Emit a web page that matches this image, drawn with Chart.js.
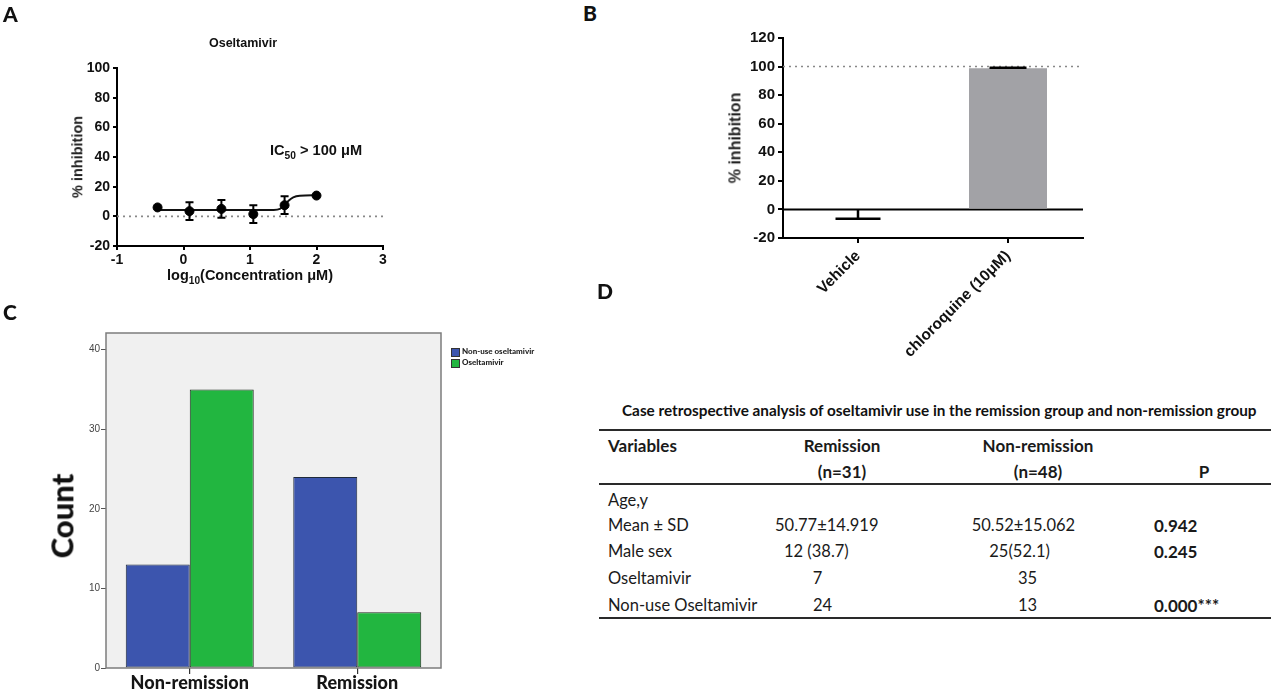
<!DOCTYPE html>
<html><head><meta charset="utf-8">
<script src="https://cdn.jsdelivr.net/npm/chart.js@4.4.1/dist/chart.umd.min.js"></script>
<style>
html,body{margin:0;padding:0;background:#fff;width:1280px;height:692px;overflow:hidden;position:relative;}
canvas{position:absolute;}
.t{position:absolute;white-space:nowrap;color:#111;line-height:1.2;}
.ln{position:absolute;background:#2a2a2a;}
</style></head><body>
<canvas id="cA" width="420" height="300" style="left:0px;top:0px;width:420px;height:300px"></canvas>
<canvas id="cB" width="560" height="380" style="left:600px;top:0px;width:560px;height:380px"></canvas>
<canvas id="cC" width="560" height="372" style="left:0px;top:320px;width:560px;height:372px"></canvas>
<script>
// ---------- Panel A data ----------
const concLogA = [-0.39, 0.09, 0.57, 1.05, 1.52, 2.00];
const inhibA   = [6, 3.5, 5, 1.5, 7.5, 14];
const sdA      = [0, 6, 6, 6, 6, 0];
const fitLogA   = [-0.39, 0.5, 1.0, 1.35, 1.45, 1.52, 1.58, 1.65, 1.75, 2.0];
const fitInhibA = [4.2, 4.2, 4.2, 4.3, 5.0, 7.5, 10.5, 12.8, 13.9, 14.2];
const refLineA  = [0];
const titleA = 'Oseltamivir';
const ic50Label = 'IC<sub style="font-size:70%">50</sub> &gt; 100 μM';

// ---------- Panel B data ----------
const categoriesB = ['Vehicle', 'chloroquine (10μM)'];
const meanB = [-0.3, 98.8];
const sdB   = [6.2, 0.4];
const refLineB = [100];

// ---------- Panel C data ----------
const categoriesC = ['Non-remission', 'Remission'];
const seriesNamesC = ['Non-use oseltamivir', 'Oseltamivir'];
const nonUseC = [13, 24];
const oselC   = [35, 7];

// ---------- Panel D data ----------
const tableTitle = 'Case retrospective analysis of oseltamivir use in the remission group and non-remission group';
const headRow1 = ['Variables', 'Remission', 'Non-remission', ''];
const headRow2 = ['', '(n=31)', '(n=48)', 'P'];
const rowLabels  = ['Age,y', 'Mean ± SD', 'Male sex', 'Oseltamivir', 'Non-use Oseltamivir'];
const remissionCol    = ['', '50.77±14.919', '12 (38.7)', '7', '24'];
const nonRemissionCol = ['', '50.52±15.062', '25(52.1)', '35', '13'];
const pCol            = ['', '0.942', '0.245', '', '0.000***'];

// ---------- helpers ----------
function txt(html, x, y, css, align, rot) {
  const d = document.createElement('div');
  d.className = 't'; d.innerHTML = html; d.style.cssText += css;
  d.style.left = x + 'px'; d.style.top = y + 'px';
  const tx = align === 'center' ? '-50%' : (align === 'right' ? '-100%' : '0');
  d.style.transform = 'translate(' + tx + ',-50%)' + (rot ? ' rotate(' + rot + 'deg)' : '');
  document.body.appendChild(d);
  return d;
}
function hline(x, y, w, h) {
  const d = document.createElement('div'); d.className = 'ln';
  d.style.left = x + 'px'; d.style.top = y + 'px'; d.style.width = w + 'px'; d.style.height = h + 'px';
  document.body.appendChild(d);
}
const ARIAL = "'Liberation Sans', Arial, sans-serif";
const CAL = "Lato, 'Open Sans', sans-serif";

function refLinePlugin(id, values, color, dash, width) {
  return { id: id, beforeDatasetsDraw(chart) {
    const {ctx, chartArea: a, scales: {y}} = chart;
    ctx.save(); ctx.strokeStyle = color; ctx.lineWidth = width; ctx.setLineDash(dash);
    values.forEach(v => { const py = y.getPixelForValue(v);
      ctx.beginPath(); ctx.moveTo(a.left, py); ctx.lineTo(a.right, py); ctx.stroke(); });
    ctx.restore();
  }};
}
Chart.defaults.animation = false;

// ---------- Chart A ----------
const errA = { id: 'errA', afterDatasetsDraw(chart) {
  const {ctx, scales: {x, y}} = chart;
  ctx.save(); ctx.strokeStyle = '#000'; ctx.lineWidth = 2;
  concLogA.forEach((lx, i) => {
    if (!sdA[i]) return;
    const px = x.getPixelForValue(lx);
    const y1 = y.getPixelForValue(inhibA[i] + sdA[i]), y2 = y.getPixelForValue(inhibA[i] - sdA[i]);
    ctx.beginPath(); ctx.moveTo(px, y1); ctx.lineTo(px, y2);
    ctx.moveTo(px - 4, y1); ctx.lineTo(px + 4, y1); ctx.moveTo(px - 4, y2); ctx.lineTo(px + 4, y2);
    ctx.stroke();
  });
  ctx.restore();
}};
const axisStyle = (tickLen) => ({
  grid: { display: true, drawOnChartArea: false, drawTicks: true, tickLength: tickLen, color: '#000', lineWidth: 2 },
  border: { display: true, color: '#000', width: 2 }
});
new Chart(document.getElementById('cA'), {
  type: 'scatter',
  data: { datasets: [
    { data: concLogA.map((v, i) => ({x: v, y: inhibA[i]})), backgroundColor: '#000', borderColor: '#000', pointRadius: 4.5, showLine: false },
    { data: fitLogA.map((v, i) => ({x: v, y: fitInhibA[i]})), borderColor: '#111', borderWidth: 2, pointRadius: 0, showLine: true, cubicInterpolationMode: 'monotone' }
  ]},
  options: {
    responsive: false,
    layout: { padding: { top: 68, right: 37, left: 0, bottom: 0 } },
    plugins: { legend: { display: false }, tooltip: { enabled: false } },
    scales: {
      x: Object.assign({ type: 'linear', min: -1, max: 3,
        ticks: { stepSize: 1, color: '#111', padding: 2, font: { family: ARIAL, size: 14, weight: 'bold' } },
        afterFit: s => { s.height = 54; } }, axisStyle(4)),
      y: Object.assign({ type: 'linear', min: -20, max: 100,
        ticks: { stepSize: 20, color: '#111', padding: 3, font: { family: ARIAL, size: 14, weight: 'bold' } },
        afterFit: s => { s.width = 117; } }, axisStyle(4))
    }
  },
  plugins: [refLinePlugin('refA', refLineA, '#888', [2, 4], 1.6), errA]
});

// ---------- Chart B ----------
const capB = [45, 37];
const errB = { id: 'errB', afterDatasetsDraw(chart) {
  const {ctx, scales: {x, y}} = chart;
  ctx.save(); ctx.strokeStyle = '#000'; ctx.lineWidth = 2.5;
  meanB.forEach((m, i) => {
    const dir = m < 0 ? -1 : 1;
    const px = x.getPixelForValue(i);
    const y0 = y.getPixelForValue(m), y1 = y.getPixelForValue(m + dir * sdB[i]);
    ctx.beginPath(); ctx.moveTo(px, y0); ctx.lineTo(px, y1);
    ctx.moveTo(px - capB[i] / 2, y1); ctx.lineTo(px + capB[i] / 2, y1); ctx.stroke();
  });
  ctx.restore();
}};
const zeroB = refLinePlugin('zeroB', [0], '#000', [], 2);
new Chart(document.getElementById('cB'), {
  type: 'bar',
  data: { labels: categoriesB, datasets: [
    { data: meanB, backgroundColor: ['rgba(0,0,0,0)', '#a2a2a6'], borderWidth: 0, barPercentage: 0.52, categoryPercentage: 1 }
  ]},
  options: {
    responsive: false,
    layout: { padding: { top: 38, right: 77, left: 0, bottom: 0 } },
    plugins: { legend: { display: false }, tooltip: { enabled: false } },
    scales: {
      x: Object.assign({ type: 'category',
        ticks: { minRotation: 45, maxRotation: 45, color: '#111', padding: 4, font: { family: ARIAL, size: 15.5, weight: 'bold' } },
        afterFit: s => { s.height = 142; } }, axisStyle(5), { grid: { display: true, drawOnChartArea: false, offset: false, tickLength: 5, color: '#000', lineWidth: 2 } }),
      y: Object.assign({ type: 'linear', min: -20, max: 120,
        ticks: { stepSize: 20, color: '#111', padding: 3, font: { family: ARIAL, size: 15, weight: 'bold' } },
        afterFit: s => { s.width = 183; } }, axisStyle(5))
    }
  },
  plugins: [refLinePlugin('refB', refLineB, '#888', [2, 4], 1.6), zeroB, errB]
});

// ---------- Chart C ----------
const frameC = {
  id: 'frameC',
  beforeDraw(chart) { const {ctx, chartArea: a} = chart; ctx.save(); ctx.fillStyle = '#f0f0f0';
    ctx.fillRect(a.left, a.top, a.right - a.left, a.bottom - a.top); ctx.restore(); },
  afterDatasetsDraw(chart) { const {ctx, chartArea: a} = chart; ctx.save(); ctx.strokeStyle = '#7c7c7c'; ctx.lineWidth = 1.5;
    ctx.strokeRect(a.left, a.top, a.right - a.left, a.bottom - a.top); ctx.restore(); }
};
const colorsC = ['#3c55ae', '#22b640'];
new Chart(document.getElementById('cC'), {
  type: 'bar',
  data: { labels: categoriesC, datasets: [
    { label: seriesNamesC[0], data: nonUseC, backgroundColor: colorsC[0], borderColor: '#1f2a3a', borderWidth: 1, borderSkipped: false, barPercentage: 1, categoryPercentage: 0.764 },
    { label: seriesNamesC[1], data: oselC, backgroundColor: colorsC[1], borderColor: '#1f2a1f', borderWidth: 1, borderSkipped: false, barPercentage: 1, categoryPercentage: 0.764 }
  ]},
  options: {
    responsive: false,
    layout: { padding: { top: 13, right: 119, left: 0, bottom: 0 } },
    plugins: { legend: { display: false }, tooltip: { enabled: false } },
    scales: {
      x: { type: 'category',
        grid: { display: true, drawOnChartArea: false, offset: false, tickLength: 6, color: '#333', lineWidth: 1.2 },
        border: { display: false },
        ticks: { color: '#151515', padding: -2, font: { family: CAL, size: 18, weight: '900' } },
        afterFit: s => { s.height = 24; } },
      y: { type: 'linear', min: 0, max: 42.1,
        grid: { display: true, drawOnChartArea: false, tickLength: 5, color: '#555', lineWidth: 1 },
        border: { display: false },
        ticks: { stepSize: 10, color: '#444', padding: 1, font: { family: ARIAL, size: 10 } },
        afterBuildTicks: s => { s.ticks = s.ticks.filter(t => t.value % 10 === 0); },
        afterFit: s => { s.width = 106; } }
    }
  },
  plugins: [frameC]
});

// ---------- Text: panel A ----------
const panelFont = 'font-family:' + CAL + ';font-weight:900;font-size:21px;color:#111;';
txt('A', 3, 14, panelFont, 'left');
txt(titleA, 243, 43, 'font-family:' + ARIAL + ';font-weight:bold;font-size:12.5px;', 'center');
txt('% inhibition', 78, 157, 'font-family:' + ARIAL + ';font-weight:bold;font-size:14.5px;color:#222;', 'center', -90);
txt('log<sub style="font-size:70%">10</sub>(Concentration μM)', 250, 277, 'font-family:' + ARIAL + ';font-weight:bold;font-size:14.5px;', 'center');
txt(ic50Label, 270, 152, 'font-family:' + ARIAL + ';font-weight:bold;font-size:14.6px;', 'left');

// ---------- Text: panel B ----------
txt('B', 583, 13, panelFont, 'left');
txt('% inhibition', 735, 138, 'font-family:' + ARIAL + ';font-weight:bold;font-size:16px;color:#222;', 'center', -90);

// ---------- Text: panel C ----------
txt('C', 3, 312, panelFont, 'left');
txt('Count', 62, 516, 'font-family:' + CAL + ';font-weight:900;font-size:31px;color:#111;', 'center', -90);
seriesNamesC.forEach((n, i) => {
  const sq = document.createElement('div');
  sq.style.cssText = 'position:absolute;left:451px;top:' + (348 + i * 11) + 'px;width:7px;height:7px;border:1px solid #333;background:' + colorsC[i] + ';';
  document.body.appendChild(sq);
  txt(n, 462, 352 + i * 11, 'font-family:' + CAL + ';font-weight:900;font-size:8px;color:#222;', 'left');
});

// ---------- Panel D table ----------
txt('D', 597, 291, panelFont, 'left');
txt(tableTitle, 622, 410, 'font-family:' + CAL + ';font-weight:bold;font-size:15.3px;', 'left');
hline(599, 429, 672, 2);
hline(599, 483, 672, 1.6);
hline(599, 617, 672, 2);
const bodyFont = 'font-family:' + CAL + ';font-size:16.5px;color:#1a1a1a;';
const boldFont = 'font-family:' + CAL + ';font-size:17px;font-weight:bold;color:#1a1a1a;';
const headX = [608, 842, 1038, 1204];
const headY = [446, 471.5];
headRow1.forEach((h, i) => { if (h) txt(h, headX[i], headY[0], boldFont, i === 0 ? 'left' : 'center'); });
headRow2.forEach((h, i) => { if (h) txt(h, headX[i], headY[1], boldFont, i === 0 ? 'left' : 'center'); });
const rowY = [501, 526, 551.7, 579, 605.7];
const remX = [0, 775, 784, 812.7, 813];
const nonX = [0, 971.7, 989.3, 1018, 1018];
const pX = 1154;
rowLabels.forEach((r, i) => {
  txt(r, 608, rowY[i], bodyFont, 'left');
  if (remissionCol[i]) txt(remissionCol[i], remX[i], rowY[i], bodyFont, 'left');
  if (nonRemissionCol[i]) txt(nonRemissionCol[i], nonX[i], rowY[i], bodyFont, 'left');
  if (pCol[i]) txt(pCol[i], pX, rowY[i], boldFont, 'left');
});
</script>
</body></html>
